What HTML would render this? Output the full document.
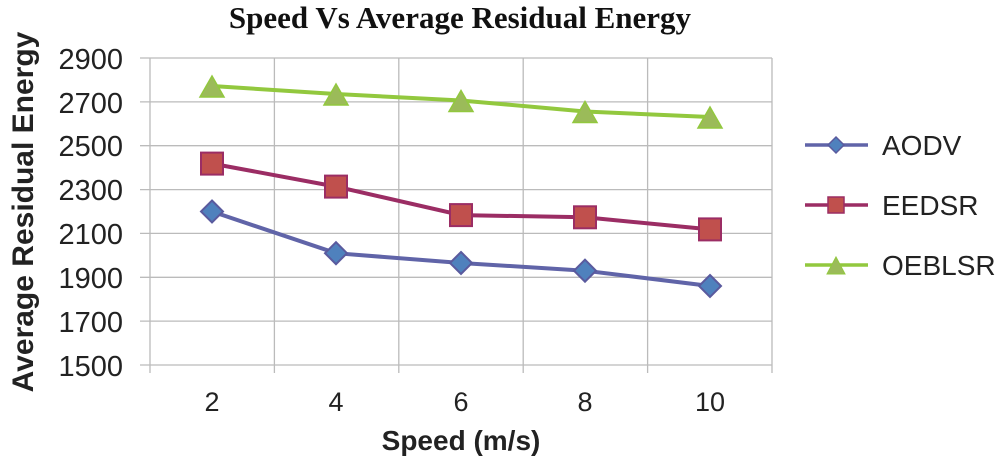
<!DOCTYPE html><html><head><style>body{margin:0;background:#fff}</style></head><body>
<svg width="1000" height="462" xmlns="http://www.w3.org/2000/svg" font-family="Liberation Sans, sans-serif">
<text x="460" y="28" text-anchor="middle" font-family="Liberation Serif, serif" font-weight="bold" font-size="31" fill="#111">Speed Vs Average Residual Energy</text>
<g stroke="#bbb" stroke-width="1.3">
<line x1="140" y1="58" x2="772" y2="58"/><line x1="140" y1="101.9" x2="772" y2="101.9"/><line x1="140" y1="145.7" x2="772" y2="145.7"/><line x1="140" y1="189.6" x2="772" y2="189.6"/><line x1="140" y1="233.4" x2="772" y2="233.4"/><line x1="140" y1="277.3" x2="772" y2="277.3"/><line x1="140" y1="321.1" x2="772" y2="321.1"/><line x1="140" y1="365" x2="772" y2="365"/>
<line x1="150" y1="58" x2="150" y2="373"/><line x1="274.4" y1="58" x2="274.4" y2="373"/><line x1="398.8" y1="58" x2="398.8" y2="373"/><line x1="523.2" y1="58" x2="523.2" y2="373"/><line x1="647.6" y1="58" x2="647.6" y2="373"/><line x1="772" y1="58" x2="772" y2="373"/>
</g>
<g font-size="29" fill="#222" text-anchor="end">
<text x="123" y="69">2900</text><text x="123" y="113">2700</text><text x="123" y="156">2500</text><text x="123" y="200">2300</text><text x="123" y="244">2100</text><text x="123" y="288">1900</text><text x="123" y="332">1700</text><text x="123" y="376">1500</text>
</g>
<g font-size="27" fill="#222" text-anchor="middle">
<text x="212" y="411">2</text><text x="336" y="411">4</text><text x="461" y="411">6</text><text x="585" y="411">8</text><text x="710" y="411">10</text>
</g>
<text x="461" y="450" text-anchor="middle" font-weight="bold" font-size="28" fill="#222">Speed (m/s)</text>
<text transform="translate(33,212) rotate(-90)" text-anchor="middle" font-weight="bold" font-size="30" fill="#222">Average Residual Energy</text>
<polyline points="212,86 336,94 461,100.5 585,111.5 710,117" fill="none" stroke="#92c83e" stroke-width="4"/>
<g fill="#9bbb59" stroke="#92c83e" stroke-width="1.5">
<polygon points="212,76 224,97 200,97"/><polygon points="336,84 348,105 324,105"/><polygon points="461,90.5 473,111.5 449,111.5"/><polygon points="585,101.5 597,122.5 573,122.5"/><polygon points="710,107 722,128 698,128"/>
</g>
<polyline points="212,163.6 336,186.6 461,215.1 585,217.3 710,229.4" fill="none" stroke="#9b2d64" stroke-width="4"/>
<g fill="#c0504d" stroke="#9b2d64" stroke-width="2">
<rect x="201" y="152.6" width="22" height="22"/><rect x="325" y="175.6" width="22" height="22"/><rect x="450" y="204.1" width="22" height="22"/><rect x="574" y="206.3" width="22" height="22"/><rect x="699" y="218.4" width="22" height="22"/>
</g>
<polyline points="212,211.5 336,253.2 461,263 585,270.7 710,286" fill="none" stroke="#6064a8" stroke-width="4"/>
<g fill="#4f81bd" stroke="#5a5a9e" stroke-width="2">
<polygon points="212,200.5 223,211.5 212,222.5 201,211.5"/><polygon points="336,242.2 347,253.2 336,264.2 325,253.2"/><polygon points="461,252 472,263 461,274 450,263"/><polygon points="585,259.7 596,270.7 585,281.7 574,270.7"/><polygon points="710,275 721,286 710,297 699,286"/>
</g>
<line x1="805" y1="145" x2="868" y2="145" stroke="#6064a8" stroke-width="3.5"/>
<polygon points="836,137 844,145 836,153 828,145" fill="#4f81bd" stroke="#5a5a9e" stroke-width="1.5"/>
<text x="882" y="155" font-size="28" fill="#222">AODV</text>
<line x1="805" y1="205" x2="868" y2="205" stroke="#9b2d64" stroke-width="3.5"/>
<rect x="828" y="197" width="16" height="16" fill="#c0504d" stroke="#9b2d64" stroke-width="1.5"/>
<text x="882" y="215" font-size="28" fill="#222">EEDSR</text>
<line x1="805" y1="265" x2="868" y2="265" stroke="#92c83e" stroke-width="3.5"/>
<polygon points="836,257 845,274 827,274" fill="#9bbb59" stroke="#92c83e" stroke-width="1"/>
<text x="882" y="275" font-size="28" fill="#222">OEBLSR</text>
</svg>
</body></html>
